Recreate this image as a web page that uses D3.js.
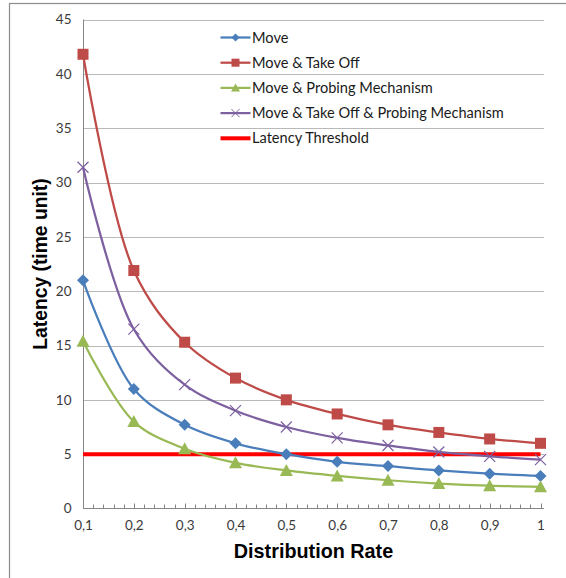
<!DOCTYPE html>
<html><head><meta charset="utf-8">
<script src="https://cdn.jsdelivr.net/npm/d3@7"></script>
<style>body{margin:0;background:#fff}svg{display:block}</style>
</head><body><svg id="c" width="566" height="578"></svg>
<script>
const categories = [0.1,0.2,0.3,0.4,0.5,0.6,0.7,0.8,0.9,1.0];
const xTickLabels = ["0,1","0,2","0,3","0,4","0,5","0,6","0,7","0,8","0,9","1"];
const yTicks = [0,5,10,15,20,25,30,35,40,45];
const moveValues = [21,11,7.7,6,5,4.3,3.9,3.5,3.2,3.0];
const takeOffValues = [41.8,21.9,15.3,12,10,8.7,7.7,7.0,6.4,6.0];
const probingValues = [15.4,8,5.5,4.2,3.5,3.0,2.6,2.3,2.1,2.0];
const allValues = [31.4,16.5,11.4,9,7.5,6.5,5.8,5.2,4.8,4.5];
const thresholdValue = 5;
const seriesNames = ["Move","Move & Take Off","Move & Probing Mechanism","Move & Take Off & Probing Mechanism","Latency Threshold"];

const series = [
  {name:seriesNames[0], values:moveValues, color:"#4a7ebb", marker:"diamond"},
  {name:seriesNames[1], values:takeOffValues, color:"#be4b48", marker:"square"},
  {name:seriesNames[2], values:probingValues, color:"#98b954", marker:"triangle"},
  {name:seriesNames[3], values:allValues, color:"#7d60a0", marker:"x"}
];

const svg = d3.select("#c");
const pLeft=83, pRight=540.5, pTop=19.5, pBottom=508.5;
const x = d3.scaleLinear().domain([0.1,1.0]).range([pLeft,pRight]);
const y = d3.scaleLinear().domain([0,45]).range([pBottom,pTop]);
const axisRight = 544;

// outer border
svg.append("rect").attr("x",9.5).attr("y",3.5).attr("width",620).attr("height",620)
  .attr("fill","none").attr("stroke","#8c8c8c").attr("stroke-width",1.2);

// gridlines
svg.append("g").selectAll("line").data(yTicks.filter(d=>d>0)).join("line")
  .attr("x1",pLeft).attr("x2",axisRight)
  .attr("y1",d=>Math.round(y(d))+0.5).attr("y2",d=>Math.round(y(d))+0.5)
  .attr("stroke","#b9b9b9").attr("stroke-width",1);

// y axis
const yAxis = d3.axisLeft(y).tickValues(yTicks).tickSize(0).tickPadding(12);
const gy = svg.append("g").attr("transform",`translate(${pLeft+0.5},0)`).call(yAxis);
gy.select(".domain").attr("stroke","#868686").attr("d",`M0,${pTop}V${pBottom}`);
gy.selectAll("text").attr("font-family","Lato, 'Open Sans', sans-serif").attr("font-size",13.5).attr("fill","#3a3a3a");

// x axis
const minorTicks = d3.range(0,46).map(i=>0.1+i*0.02).filter(v=>v<=1.0001);
svg.append("line").attr("x1",pLeft).attr("x2",axisRight).attr("y1",pBottom).attr("y2",pBottom)
  .attr("stroke","#868686").attr("stroke-width",1);
svg.append("g").selectAll("line").data(minorTicks.slice(1)).join("line")
  .attr("x1",d=>Math.round(x(d))+0.5).attr("x2",d=>Math.round(x(d))+0.5)
  .attr("y1",pBottom).attr("y2",(d,i)=>((i+1)%5===0)?pBottom-5:pBottom-4)
  .attr("stroke","#868686").attr("stroke-width",1);
const xAxis = d3.axisBottom(x).tickValues(categories).tickFormat((d,i)=>xTickLabels[i]).tickSize(0).tickPadding(12);
const gx = svg.append("g").attr("transform",`translate(0,${pBottom})`).call(xAxis);
gx.select(".domain").remove();
gx.selectAll("text").attr("font-family","Lato, 'Open Sans', sans-serif").attr("font-size",13.5).attr("fill","#3a3a3a");

// threshold line
svg.append("line").attr("x1",x(categories[0])).attr("x2",x(categories[categories.length-1]))
  .attr("y1",y(thresholdValue)).attr("y2",y(thresholdValue))
  .attr("stroke","#ff0000").attr("stroke-width",4);

// series
const line = d3.line().x((d,i)=>x(categories[i])).y(d=>y(d)).curve(d3.curveCatmullRom.alpha(0.5));
function drawMarker(g, type, color, cx, cy){
  if(type==="diamond"){
    g.append("path").attr("d",`M${cx},${cy-6}L${cx+6},${cy}L${cx},${cy+6}L${cx-6},${cy}Z`).attr("fill",color);
  } else if(type==="square"){
    g.append("rect").attr("x",cx-5.5).attr("y",cy-5.5).attr("width",11).attr("height",11).attr("fill",color);
  } else if(type==="triangle"){
    g.append("path").attr("d",`M${cx},${cy-6.5}L${cx+6.5},${cy+5.5}L${cx-6.5},${cy+5.5}Z`).attr("fill",color);
  } else if(type==="x"){
    g.append("path").attr("d",`M${cx-5.5},${cy-5.5}L${cx+5.5},${cy+5.5}M${cx-5.5},${cy+5.5}L${cx+5.5},${cy-5.5}`).attr("stroke",color).attr("stroke-width",1.2).attr("fill","none");
  }
}
series.forEach(s=>{
  const g = svg.append("g");
  g.append("path").datum(s.values).attr("d",line).attr("fill","none").attr("stroke",s.color).attr("stroke-width",2.25);
  s.values.forEach((v,i)=>drawMarker(g,s.marker,s.color,x(categories[i]),y(v)));
});

// legend
const lg = svg.append("g");
const legendItems = series.map(s=>({name:s.name,color:s.color,marker:s.marker})).concat([{name:seriesNames[4],color:"#ff0000",marker:null}]);
legendItems.forEach((it,i)=>{
  const cy = 37.5 + i*25.2;
  lg.append("line").attr("x1",220.5).attr("x2",250.5).attr("y1",cy).attr("y2",cy)
    .attr("stroke",it.color).attr("stroke-width",it.marker?2.25:4);
  if(it.marker){
    const g = lg.append("g");
    if(it.marker==="diamond") g.append("path").attr("d",`M235.5,${cy-4}L239.5,${cy}L235.5,${cy+4}L231.5,${cy}Z`).attr("fill",it.color);
    if(it.marker==="square") g.append("rect").attr("x",231.5).attr("y",cy-4).attr("width",8).attr("height",8).attr("fill",it.color);
    if(it.marker==="triangle") g.append("path").attr("d",`M235.5,${cy-4.5}L240,${cy+3.5}L231,${cy+3.5}Z`).attr("fill",it.color);
    if(it.marker==="x") g.append("path").attr("d",`M231.5,${cy-4}L239.5,${cy+4}M231.5,${cy+4}L239.5,${cy-4}`).attr("stroke",it.color).attr("stroke-width",1);
  }
  lg.append("text").attr("x",252).attr("y",cy).attr("dy","0.35em")
    .attr("font-family","Lato, 'Open Sans', sans-serif").attr("font-size",14.6).attr("fill","#1a1a1a").text(it.name);
});

// axis titles
svg.append("text").attr("x",313.5).attr("y",557.5).attr("text-anchor","middle")
  .attr("font-family","'Liberation Sans', Arial, sans-serif").attr("font-weight","bold").attr("font-size",19.8)
  .attr("fill","#000").text("Distribution Rate");
svg.append("text").attr("transform",`translate(47,${(pTop+pBottom)/2}) rotate(-90)`).attr("text-anchor","middle")
  .attr("font-family","'Liberation Sans', Arial, sans-serif").attr("font-weight","bold").attr("font-size",19.3)
  .attr("fill","#000").text("Latency (time unit)");
</script></body></html>
